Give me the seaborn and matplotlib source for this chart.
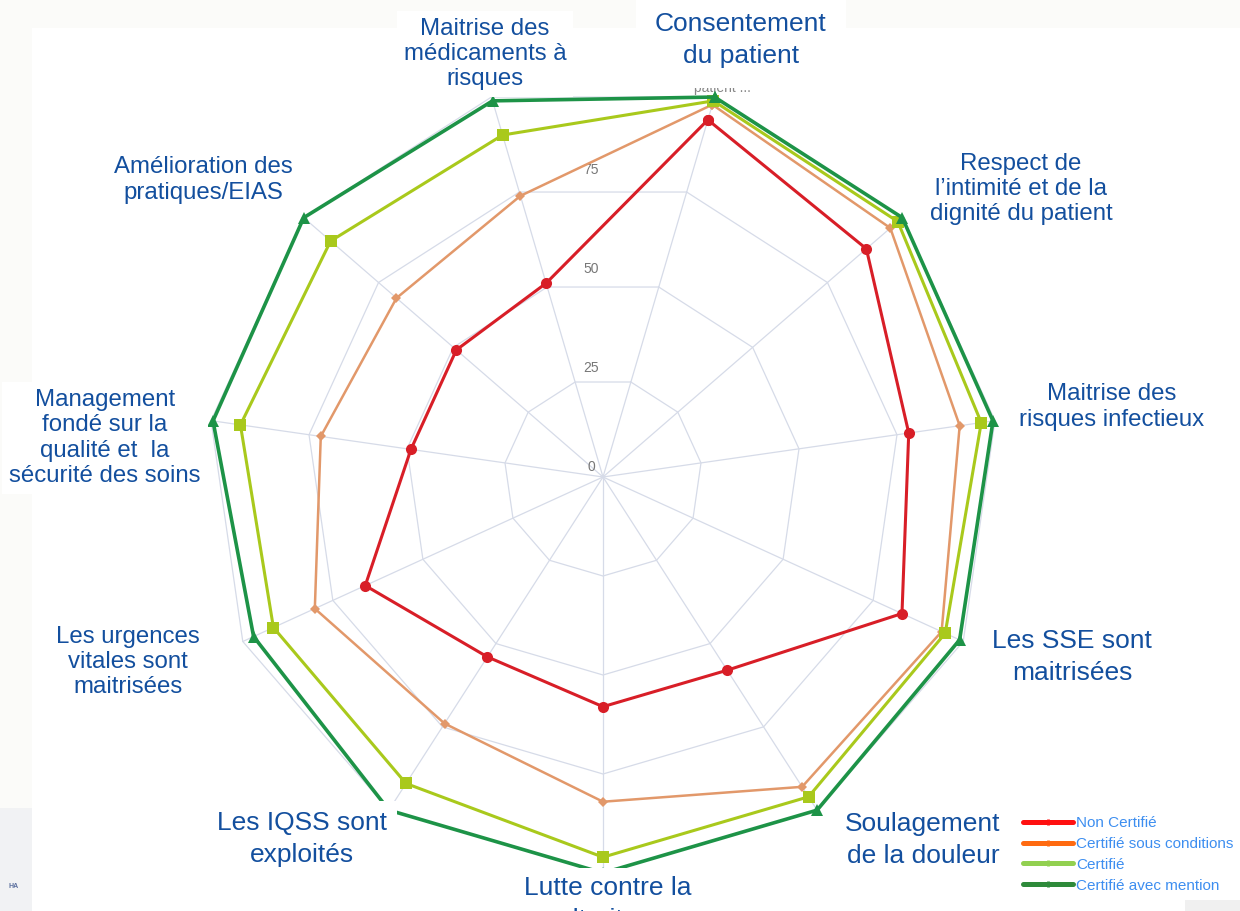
import numpy as np
import pandas as pd
import matplotlib
matplotlib.use("Agg")
import matplotlib.pyplot as plt
from matplotlib.lines import Line2D
from matplotlib.patches import Rectangle
import seaborn as sns

# axes, clockwise from the top-right spoke; "Lutte" sits at the bottom
categories = [
	"Consentement\ndu patient",
	"Respect de\nl\u2019intimité et de la\ndignité du patient",
	"Maitrise des\nrisques infectieux",
	"Les SSE sont\nmaitrisées",
	"Soulagement\nde la douleur",
	"Lutte contre la\nmaltraitance",
	"Les IQSS sont\nexploités",
	"Les urgences\nvitales sont\nmaitrisées",
	"Management\nfondé sur la\nqualité et  la\nsécurité des soins",
	"Amélioration des\npratiques/EIAS",
	"Maitrise des\nmédicaments à\nrisques",
]

series_names = ["Non Certifié", "Certifié sous conditions", "Certifié", "Certifié avec mention"]
non_certifie = [94, 88, 78, 83, 58, 58, 54, 66, 49, 49, 51]
sous_conditions = [98, 96, 91, 94, 93, 82, 74, 80, 72, 69, 74]
certifie = [99, 98.5, 96.5, 95, 96, 96, 92, 91.5, 92.5, 91, 90]
avec_mention = [100, 100, 99.5, 99, 100, 100, 100, 97, 99.5, 100, 99]

ring_values = [25, 50, 75, 100]
ring_labels = ["25", "50", "75"]

line_colors = ["#d81e27", "#e2986a", "#a9c91c", "#1d9347"]
legend_colors = ["#ff1010", "#ff6a10", "#92d050", "#2e8a3a"]
markers = ["o", "D", "s", "^"]
marker_sizes = [8, 5, 8.5, 9]
line_widths = [2.2, 1.8, 2.2, 2.6]

label_color = "#134f9e"
grid_color = "#d6dbe8"

sns.set_style("white")
plt.rcParams["font.family"] = ["Liberation Sans", "DejaVu Sans"]

W, H = 1240, 911
fig = plt.figure(figsize=(W / 100, H / 100), dpi=100, facecolor="#fbfbf9")

# page background pieces
fig.patches.append(Rectangle((32 / W, 0), 1 - 32 / W, 1 - 28 / H, transform=fig.transFigure,
	facecolor="white", edgecolor="none", zorder=-10))
fig.patches.append(Rectangle((0, 0), 32 / W, 103 / H, transform=fig.transFigure,
	facecolor="#f1f2f4", edgecolor="none", zorder=-9))
fig.patches.append(Rectangle((1185 / W, 0), 55 / W, 11 / H, transform=fig.transFigure,
	facecolor="#f0f0f0", edgecolor="none", zorder=-9))
fig.text(14 / W, 1 - 886 / H, "HA", fontsize=5, color="#5b6f9e", ha="center", va="center", fontweight="bold")

cx, cy = 603, 477
px_per_unit = 3.96
rmax = 105
rad = rmax * px_per_unit
ax = fig.add_axes([(cx - rad) / W, (H - cy - rad) / H, 2 * rad / W, 2 * rad / H], projection="polar")
ax.set_theta_zero_location("N")
ax.set_theta_direction(-1)
ax.set_ylim(0, rmax)
ax.set_facecolor("none")
ax.grid(False)
ax.spines["polar"].set_visible(False)

n = len(categories)
theta = np.pi + 2 * np.pi * (np.arange(n) - 5) / n
theta_closed = np.append(theta, theta[0] + 2 * np.pi)

# polygon grid
for v in ring_values:
	ax.plot(theta_closed, [v] * (n + 1), color=grid_color, lw=0.9, zorder=1)
for t in theta:
	ax.plot([t, t], [0, 100], color=grid_color, lw=0.9, zorder=1)

for lab in ["0"] + ring_labels:
	ax.annotate(lab, xy=(0, float(lab)), xytext=(-8.6, 7.5), textcoords="offset points",
		ha="center", va="center", fontsize=10, color="#777777")
ax.annotate("patient ...", xy=(theta[0], 100), xytext=(6, 6.5), textcoords="offset points",
	ha="center", va="center", fontsize=10, color="#888888")

all_vals = [non_certifie, sous_conditions, certifie, avec_mention]
for i, vals in enumerate(all_vals):
	df = pd.DataFrame({"theta": theta_closed, "r": vals + vals[:1]})
	sns.lineplot(data=df, x="theta", y="r", sort=False, estimator=None, ax=ax,
		color=line_colors[i], lw=line_widths[i], marker=markers[i], markersize=marker_sizes[i],
		markeredgecolor=line_colors[i], markeredgewidth=0, clip_on=False, zorder=3 + i)
ax.set_xlabel("")
ax.set_ylabel("")
ax.set_xticks([])
ax.set_yticks([])

# category labels (white boxes overlapping the chart, as in the slide)
label_pos = [
	(741, 40, 19, 14), (1021, 189, 17.3, 5), (1112, 407, 17.3, 5), (1072, 657, 19, 6),
	(923, 840, 19, 6), (608, 904, 19, 6), (302, 839, 19, 7), (128, 662, 17.3, 5),
	(105, 438, 17.3, 5), (203, 180, 17.3, 5), (485, 54, 17.3, 5),
]
for text, (x, y, fs, pad) in zip(categories, label_pos):
	ls = 1.42 if fs > 18 else 1.2
	fig.text(x / W, 1 - y / H, text, ha="center", va="center", multialignment="center",
		fontsize=fs, color=label_color, linespacing=ls, zorder=10,
		bbox=dict(facecolor="white", edgecolor="none", pad=pad))

handles = [Line2D([0], [0], color=c, lw=3.6, marker="|", markersize=5, markeredgewidth=2)
	for c in legend_colors]
fig.legend(handles, series_names, loc="upper left", bbox_to_anchor=(1023 / W, 1 - 816 / H),
	frameon=False, fontsize=11, labelcolor="#3d8ef0", handlelength=3.25, handletextpad=0.25,
	labelspacing=0.45, borderpad=0, borderaxespad=0)

fig.savefig("out.png", dpi=100, facecolor=fig.get_facecolor())
